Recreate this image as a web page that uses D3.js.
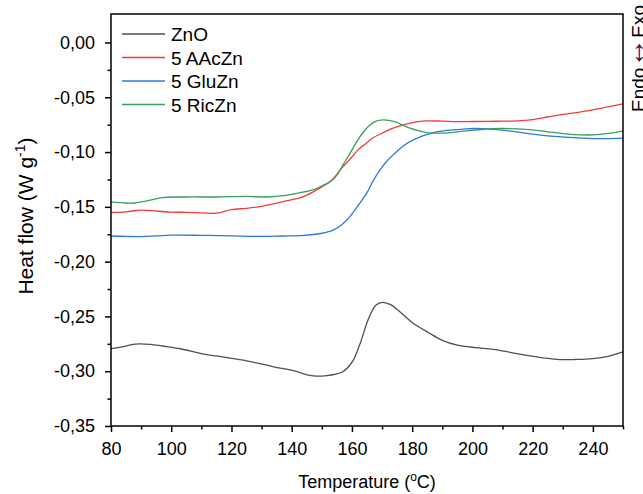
<!DOCTYPE html>
<html><head><meta charset="utf-8">
<script src="https://cdn.jsdelivr.net/npm/d3@7"></script>
<style>body{margin:0;background:#fff}svg{display:block}text{font-family:"Liberation Sans",Arial,sans-serif;fill:#000}</style>
</head><body><svg id="c" width="643" height="494"></svg>
<script>
const xTicks = [80,100,120,140,160,180,200,220,240];
const yTicks = [0,-0.05,-0.10,-0.15,-0.20,-0.25,-0.30,-0.35];
const seriesNames = ["ZnO","5 AAcZn","5 GluZn","5 RicZn"];
const seriesColors = ["#505050","#f23c3c","#2f78e0","#36a05c"];

const znoT = [80,84,88,93,97,103,110,117,125,134,140,146,148.5,151,154,157,160,162.5,165.5,168,170.3,173,176,180,185.5,190,195,201,207,213,218,224,229,234,240,245,250];
const znoV = [-0.2794,-0.2775,-0.2752,-0.2755,-0.2770,-0.2795,-0.2839,-0.2870,-0.2905,-0.2960,-0.2991,-0.3038,-0.3045,-0.3042,-0.3030,-0.3005,-0.2920,-0.2764,-0.2522,-0.2395,-0.2371,-0.2395,-0.2460,-0.2555,-0.2649,-0.2718,-0.2762,-0.2785,-0.2800,-0.2830,-0.2855,-0.2880,-0.2894,-0.2893,-0.2885,-0.2865,-0.2824];

const aacT = [80,85,90,95,100,105,110,115,120,125,130,135,140,143,147,150,153,157,160,162,165,167,170,173,176,179,182,185,190,195,200,205,210,215,220,225,230,235,240,245,250];
const aacV = [-0.1550,-0.1545,-0.1530,-0.1538,-0.1548,-0.1550,-0.1555,-0.1558,-0.1525,-0.1513,-0.1495,-0.1465,-0.1435,-0.1415,-0.1365,-0.1318,-0.1265,-0.1135,-0.1045,-0.0980,-0.0915,-0.0870,-0.0828,-0.0788,-0.0762,-0.0738,-0.0722,-0.0715,-0.0718,-0.0722,-0.0721,-0.0720,-0.0718,-0.0715,-0.0703,-0.0680,-0.0657,-0.0637,-0.0615,-0.0588,-0.0560];

const gluT = [80,85,90,95,100,110,120,130,137,143,148,151,154,157,159.3,162,164.9,167,169.3,172,174.9,177.5,180.4,183.5,187,190,193.6,197,200.3,205,209.2,215,220,225,231,236,240,245,250];
const gluV = [-0.1766,-0.1770,-0.1772,-0.1765,-0.1758,-0.1760,-0.1765,-0.1770,-0.1766,-0.1763,-0.1750,-0.1735,-0.1710,-0.1655,-0.1589,-0.1490,-0.1375,-0.1265,-0.1163,-0.1070,-0.0995,-0.0935,-0.0889,-0.0852,-0.0822,-0.0808,-0.0797,-0.0790,-0.0785,-0.0788,-0.0797,-0.0818,-0.0837,-0.0852,-0.0864,-0.0872,-0.0877,-0.0877,-0.0873];

const ricT = [80,85,88,92,97,105,115,125,132,138,142,147,150,153,155,157,159.5,161.6,164,166,168,170.4,173,175,177,179.3,182,184.8,189,193,198,204,209,215,220,225,231,236,240,245,250];
const ricV = [-0.1455,-0.1465,-0.1465,-0.1445,-0.1415,-0.1410,-0.1410,-0.1405,-0.1410,-0.1395,-0.1375,-0.1345,-0.1310,-0.1265,-0.1210,-0.1117,-0.1005,-0.0904,-0.0810,-0.0752,-0.0718,-0.0706,-0.0715,-0.0730,-0.0757,-0.0782,-0.0805,-0.0822,-0.0828,-0.0822,-0.0806,-0.0792,-0.0785,-0.0788,-0.0797,-0.0815,-0.0834,-0.0843,-0.0843,-0.0830,-0.0806];

const seriesT = [znoT, aacT, gluT, ricT];
const seriesV = [znoV, aacV, gluV, ricV];

const svg = d3.select("#c");
const L=111,R=623,T=14,B=426;
const x = d3.scaleLinear().domain([80,250]).range([L,R]);
const y = d3.scaleLinear().domain([-0.35,0.026]).range([B,T]);
const fmt = v => d3.format(".2f")(v).replace(".",",").replace("−","-");

// curves
const line = d3.line().x(d=>x(d[0])).y(d=>y(d[1])).curve(d3.curveCatmullRom.alpha(0.5));
seriesT.forEach((ts,i)=>{
  const pts = ts.map((t,j)=>[t, seriesV[i][j]]);
  svg.append("path").attr("d", line(pts)).attr("fill","none")
     .attr("stroke", seriesColors[i]).attr("stroke-width",1.3);
});

// axes
const xAxis = svg.append("g").attr("transform",`translate(0,${B})`)
  .call(d3.axisBottom(x).tickValues(xTicks).tickSize(6).tickPadding(10).tickFormat(d3.format("d")));
const xMinor = svg.append("g").attr("transform",`translate(0,${B})`)
  .call(d3.axisBottom(x).tickValues(d3.range(90,251,20)).tickSize(3.5).tickFormat(""));
const yAxis = svg.append("g").attr("transform",`translate(${L},0)`)
  .call(d3.axisLeft(y).tickValues(yTicks).tickSize(6).tickPadding(10).tickFormat(fmt));
const yMinor = svg.append("g").attr("transform",`translate(${L},0)`)
  .call(d3.axisLeft(y).tickValues(d3.range(-0.325,0,0.05)).tickSize(3.5).tickFormat(""));
[xAxis,xMinor,yAxis,yMinor].forEach(g=>{
  g.select(".domain").remove();
  g.selectAll("line").attr("stroke","#000").attr("stroke-width",1.5);
  g.selectAll("text").attr("font-size",18).attr("font-family","Liberation Sans, Arial, sans-serif").attr("fill","#000");
});
xAxis.selectAll("text").attr("dy","0.71em");
svg.append("rect").attr("x",L).attr("y",T).attr("width",R-L).attr("height",B-T)
  .attr("fill","none").attr("stroke","#000").attr("stroke-width",1.5);

// titles
const xt = svg.append("text").attr("x",(L+R)/2).attr("y",488).attr("text-anchor","middle").attr("font-size",18);
xt.append("tspan").text("Temperature (");
xt.append("tspan").attr("font-size",12).attr("dy",-7).text("o");
xt.append("tspan").attr("dy",7).text("C)");

const yt = svg.append("text").attr("transform",`translate(33,216) rotate(-90)`).attr("text-anchor","middle").attr("font-size",21);
yt.append("tspan").text("Heat flow (W g");
yt.append("tspan").attr("font-size",14).attr("dy",-8).text("-1");
yt.append("tspan").attr("dy",8).text(")");

// Endo / Exo
const ee = svg.append("text").attr("transform",`translate(645,112) rotate(-90)`).attr("font-size",19);
ee.append("tspan").text("Endo");
ee.append("tspan").attr("fill","#4b0a5a").attr("font-size",30).attr("dy",-1).text("↔");
ee.append("tspan").attr("dy",1).text("Exo");

// legend
seriesNames.forEach((n,i)=>{
  const yy = 34 + i*23.5;
  svg.append("line").attr("x1",122).attr("x2",165).attr("y1",yy).attr("y2",yy)
    .attr("stroke",seriesColors[i]).attr("stroke-width",1.3);
  svg.append("text").attr("x",171).attr("y",yy+7).attr("font-size",19).text(n);
});
</script></body></html>
